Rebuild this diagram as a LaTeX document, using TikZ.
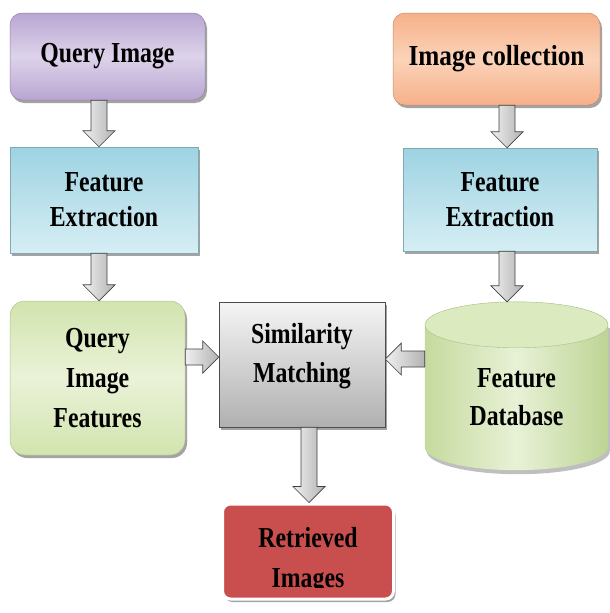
\documentclass[tikz,border=0pt]{standalone}
\usepackage{fontspec}
\setmainfont{Liberation Serif}
\newfontfamily\lbl{Liberation Serif}[FakeStretch=0.82]
\newfontfamily\lblw{Liberation Serif}[FakeStretch=0.87]
\usetikzlibrary{calc,shadows}
\pgfdeclarelayer{background}
\pgfsetlayers{background,main}
\definecolor{qiA}{HTML}{B8A6D2}
\definecolor{qiB}{HTML}{DDD3EA}
\definecolor{feA}{HTML}{9ED3E2}
\definecolor{feB}{HTML}{D6EEF4}
\definecolor{gA}{HTML}{D2E4AE}
\definecolor{gB}{HTML}{EAF2D8}
\definecolor{icA}{HTML}{F6B08A}
\definecolor{icB}{HTML}{FBD3B8}
\definecolor{riA}{HTML}{C94F4F}
\definecolor{dbL}{HTML}{C6DA9E}
\definecolor{dbM}{HTML}{E8F1D6}
\definecolor{dbR}{HTML}{BDD494}
\definecolor{dbT}{HTML}{DCEAC0}
\tikzset{
  box/.style={font={\lbl\bfseries\fontsize{29}{35}\selectfont}, align=center, inner sep=0pt,
    drop shadow={shadow xshift=2pt,shadow yshift=-3pt,fill=black!65,opacity=.55}},
  barrow/.style={left color=gray!12, right color=gray!60, draw=gray!50!black, line width=0.7pt},
}
\newcommand\blockarrow[2]{%
  \path (#1) coordinate (s) (#2) coordinate (e);
  \path ($(e)!16pt!(s)$) coordinate (h);
  \shade[barrow] ($(s)!8pt!90:(e)$) -- ($(h)!8pt!90:(e)$) -- ($(h)!16pt!90:(e)$) -- (e)
     -- ($(h)!16pt!-90:(e)$) -- ($(h)!8pt!-90:(e)$) -- ($(s)!8pt!-90:(e)$) -- cycle;}
\begin{document}
\begin{tikzpicture}
\useasboundingbox (0,0) rectangle (610pt,-613pt);
\begin{pgfonlayer}{background}
\fill[white] (0,0) rectangle (610pt,-613pt);
\end{pgfonlayer}

% left column
\node[box, minimum width=195pt, minimum height=87pt, rounded corners=12pt,
  top color=qiA, bottom color=qiA, middle color=qiB, draw=qiA!80!black, line width=0.5pt]
  (QI) at (107.5pt,-56.5pt) {Query Image};
\node[box, minimum width=188pt, minimum height=106pt,
  top color=feA, bottom color=feB, draw=feA!80!black, line width=0.5pt]
  (FEL) at (104pt,-200pt) {Feature\\Extraction};
\node[box, minimum width=175pt, minimum height=154pt, rounded corners=15pt,
  font={\lbl\bfseries\fontsize{29}{40}\selectfont},
  top color=gA, bottom color=gA, middle color=gB, draw=gA!85!black, line width=0.5pt]
  (QIF) at (97.5pt,-378pt) {Query\\Image\\Features};

% middle
\node[box, minimum width=166pt, minimum height=125pt, text depth=24pt,
  font={\lbl\bfseries\fontsize{29}{39}\selectfont},
  top color=gray!8, bottom color=gray!62, draw=gray!60!black, line width=0.5pt]
  (SM) at (302pt,-364.5pt) {Similarity\\Matching};
\node[box, minimum width=171pt, minimum height=95pt, rounded corners=8pt,
  fill=riA, draw=white, line width=3pt]
  (RI) at (308pt,-551.5pt) {};
\node[font={\lbl\bfseries\fontsize{29}{35}\selectfont}, inner sep=0pt, anchor=base]
  (RIa) at (308pt,-547pt) {Retrieved};
\begin{scope}
  \clip (RI.north west) rectangle ([yshift=13pt]RI.south east);
  \node[font={\lbl\bfseries\fontsize{29}{35}\selectfont}, inner sep=0pt, anchor=base]
    (RIb) at (308pt,-587pt) {Images};
\end{scope}

% right column
\node[box, minimum width=207pt, minimum height=92pt, rounded corners=12pt,
  font={\lblw\bfseries\fontsize{29}{35}\selectfont},
  top color=icA, bottom color=icA, middle color=icB, draw=icA!80!black, line width=0.5pt]
  (IC) at (496.5pt,-59pt) {Image collection};
\node[box, minimum width=194pt, minimum height=103pt,
  top color=feA, bottom color=feB, draw=feA!80!black, line width=0.5pt]
  (FER) at (500pt,-199.5pt) {Feature\\Extraction};
\node[font={\lbl\bfseries\fontsize{29}{38}\selectfont}, align=center, inner sep=0pt,
  minimum width=183pt, minimum height=168pt, text height=78pt, text depth=0pt]
  (DB) at (516.5pt,-386pt) {Feature\\Database};
\begin{pgfonlayer}{background}
  \fill[black!50, opacity=.5] ([xshift=2pt,yshift=-26pt]DB.north west) -- ([xshift=2pt,yshift=19pt]DB.south west)
    arc[start angle=180,end angle=360,x radius=91.5pt,y radius=23pt]
    -- ([xshift=2pt,yshift=-26pt]DB.north east) -- cycle;
  \shade[left color=dbL, right color=dbR, middle color=dbM]
    ([yshift=-23pt]DB.north west) -- ([yshift=23pt]DB.south west)
    arc[start angle=180,end angle=360,x radius=91.5pt,y radius=23pt]
    -- ([yshift=-23pt]DB.north east)
    arc[start angle=0,end angle=180,x radius=91.5pt,y radius=23pt] -- cycle;
  \fill[dbT, draw=dbR!90!black, line width=0.4pt] ([yshift=-23pt]DB.north)
    ellipse[x radius=91.5pt, y radius=23pt];
\end{pgfonlayer}

% connectors
\blockarrow{[xshift=-8.5pt]QI.south}{[xshift=-5pt]FEL.north}
\blockarrow{[xshift=-5pt]FEL.south}{[xshift=1.5pt]QIF.north}
\blockarrow{[xshift=10.5pt]IC.south}{[xshift=7pt]FER.north}
\blockarrow{[xshift=7pt]FER.south}{[xshift=-9.5pt]DB.north}
\blockarrow{[yshift=21pt]QIF.east}{[yshift=7.5pt]SM.west}
\blockarrow{[yshift=27pt]DB.west}{[yshift=5.5pt]SM.east}
\blockarrow{[xshift=7pt]SM.south}{[xshift=1pt]RI.north}
\end{tikzpicture}
\end{document}
